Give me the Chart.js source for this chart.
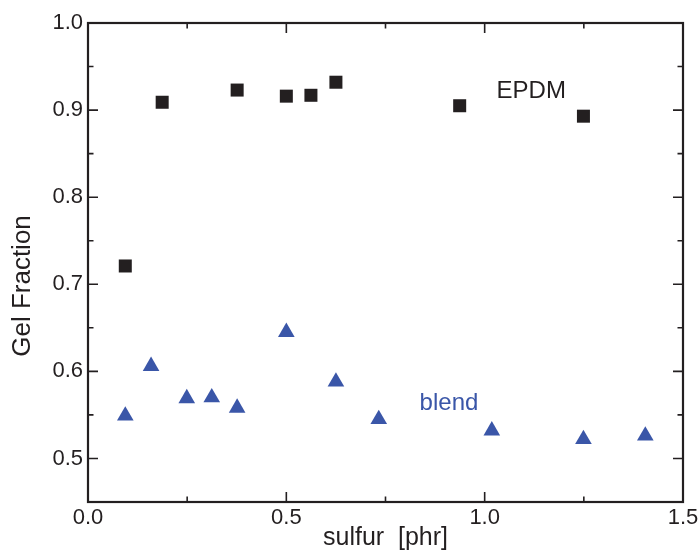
<!DOCTYPE html>
<html>
<head>
<meta charset="utf-8">
<script src="https://cdn.jsdelivr.net/npm/chart.js@4"></script>
<style>
  body { margin: 0; background: #fff; }
</style>
</head>
<body>
<canvas id="gelChart" width="698" height="555"></canvas>
<script>
// values
const epdmSulfur = [0.094, 0.187, 0.376, 0.5, 0.562, 0.625, 0.937, 1.249];
const epdmGel = [0.721, 0.909, 0.923, 0.916, 0.917, 0.932, 0.905, 0.893];
const blendSulfur = [0.094, 0.159, 0.249, 0.312, 0.376, 0.5, 0.625, 0.733, 1.018, 1.249, 1.405];
const blendGel = [0.549, 0.606, 0.569, 0.570, 0.558, 0.645, 0.588, 0.545, 0.532, 0.522, 0.526];

const ink = "#231f20";
const blue = "#3a56a8";
const font = "'Liberation Sans', Arial, Helvetica, sans-serif";

const toPoints = (xs, ys) => xs.map((x, i) => ({ x: x, y: ys[i] }));

// inward ticks on all four sides, frame, series labels, y title
const framePlugin = {
  id: "frame",
  afterDraw(chart) {
    const { ctx, chartArea: a, scales } = chart;
    ctx.save();
    ctx.strokeStyle = ink;
    ctx.lineWidth = 1.6;
    scales.x.ticks.forEach(t => {
      const px = scales.x.getPixelForValue(t.value);
      const len = Math.round(t.value * 100) % 50 === 0 ? 10 : 5.5;
      ctx.beginPath();
      ctx.moveTo(px, a.bottom); ctx.lineTo(px, a.bottom - len);
      ctx.moveTo(px, a.top); ctx.lineTo(px, a.top + len);
      ctx.stroke();
    });
    scales.y.ticks.forEach(t => {
      const py = scales.y.getPixelForValue(t.value);
      const len = Math.round(t.value * 100) % 10 === 0 ? 10 : 5.5;
      ctx.beginPath();
      ctx.moveTo(a.left, py); ctx.lineTo(a.left + len, py);
      ctx.moveTo(a.right, py); ctx.lineTo(a.right - len, py);
      ctx.stroke();
    });
    ctx.lineWidth = 2.2;
    ctx.strokeRect(a.left, a.top, a.right - a.left, a.bottom - a.top);

    ctx.font = "24px " + font;
    ctx.textBaseline = "alphabetic";
    ctx.textAlign = "left";
    ctx.fillStyle = ink;
    ctx.fillText("EPDM", scales.x.getPixelForValue(1.03), scales.y.getPixelForValue(0.914));
    ctx.fillStyle = blue;
    ctx.fillText("blend", scales.x.getPixelForValue(0.836), scales.y.getPixelForValue(0.556));

    ctx.fillStyle = ink;
    ctx.font = "26px " + font;
    ctx.textAlign = "center";
    ctx.translate(30, 286);
    ctx.rotate(-Math.PI / 2);
    ctx.fillText("Gel Fraction", 0, 0);
    ctx.restore();
  }
};

new Chart(document.getElementById("gelChart").getContext("2d"), {
  type: "scatter",
  data: {
    datasets: [
      {
        label: "EPDM",
        data: toPoints(epdmSulfur, epdmGel),
        pointStyle: "rect",
        pointRadius: 9.2,
        backgroundColor: ink,
        borderWidth: 0
      },
      {
        label: "blend",
        data: toPoints(blendSulfur, blendGel),
        pointStyle: "triangle",
        pointRadius: 9.6,
        backgroundColor: blue,
        borderWidth: 0
      }
    ]
  },
  options: {
    responsive: false,
    animation: false,
    layout: { padding: { top: 23, right: 15, left: 0, bottom: 0 } },
    plugins: { legend: { display: false }, tooltip: { enabled: false } },
    scales: {
      x: {
        type: "linear",
        min: 0,
        max: 1.5,
        afterFit: s => { s.height = 53; s.paddingRight = 0; s.paddingLeft = 0; },
        grid: { display: false, drawTicks: false },
        border: { display: false },
        ticks: {
          stepSize: 0.25,
          autoSkip: false,
          padding: 3,
          maxRotation: 0,
          color: ink,
          font: { family: font, size: 22 },
          callback: v => (Math.round(v * 100) % 50 === 0 ? v.toFixed(1) : "")
        },
        title: {
          display: true,
          text: "sulfur  [phr]",
          color: ink,
          font: { family: font, size: 25, lineHeight: 1 },
          padding: { top: 0, bottom: 4 }
        }
      },
      y: {
        min: 0.45,
        max: 1.0,
        afterFit: s => { s.width = 88; s.paddingTop = 0; s.paddingBottom = 0; },
        grid: { display: false, drawTicks: false },
        border: { display: false },
        ticks: {
          stepSize: 0.05,
          autoSkip: false,
          padding: 5,
          color: ink,
          font: { family: font, size: 22 },
          callback: v => (Math.round(v * 100) % 10 === 0 ? v.toFixed(1) : "")
        }
      }
    }
  },
  plugins: [framePlugin]
});
</script>
</body>
</html>
